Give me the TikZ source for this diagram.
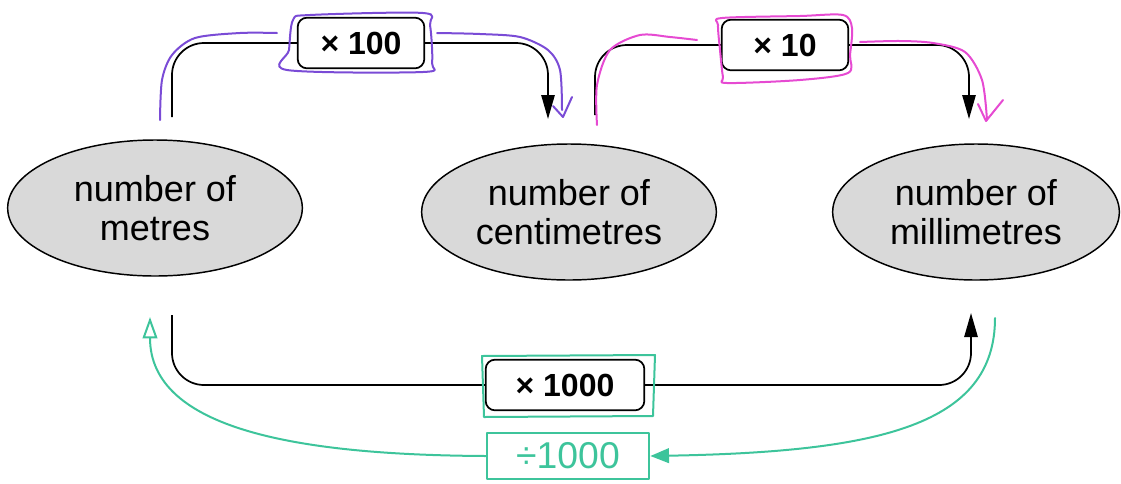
\documentclass[tikz,border=0pt]{standalone}
\usepackage{fontspec}
\setmainfont{Liberation Sans}
\usetikzlibrary{arrows.meta,shapes.geometric}
\definecolor{penpurple}{HTML}{7A4BD6}
\definecolor{penpink}{HTML}{E64AD2}
\definecolor{pengreen}{HTML}{3DC49B}
\begin{document}
\begin{tikzpicture}[x=0.75pt,y=-0.75pt,
  qty/.style={ellipse,draw,line width=1.1pt,fill=black!15,inner sep=0pt,minimum width=221pt,minimum height=102pt,align=center,font=\fontsize{27}{29}\selectfont},
  op/.style={draw,line width=1.3pt,rounded corners=7pt,fill=white,minimum height=38pt,font=\bfseries\fontsize{24}{26}\selectfont},
  link/.style={line width=1.3pt,rounded corners=24pt},
  tip/.style={-{Triangle[length=18pt,width=10pt]}},
  pen/.style={line width=1.5pt,line cap=round,line join=round}]
\useasboundingbox (0,0) rectangle (1121,483);
% quantities
\node[qty] (m) at (155,208) {number of\\metres};
\node[qty] (cm) at (569,212) {number of\\centimetres};
\node[qty,minimum width=215pt] (mm) at (976,212) {number of\\millimetres};
% multipliers
\node[op,minimum width=95pt] (x100) at (361,43) {× 100};
\node[op,minimum width=95pt] (x10) at (785,45) {× 10};
\node[op,minimum width=119pt] (x1000) at (565,385) {× 1000};
% connector ends
\coordinate (m-top) at (172,117);
\coordinate (m-bot) at (172,315);
\coordinate (cm-top) at (548,119);
\coordinate (cm-out) at (595,115);
\coordinate (mm-top) at (969,119);
\coordinate (mm-bot) at (971,313);
\draw[link] (m-top) |- (x100);
\draw[link,tip] (x100) -| (cm-top);
\draw[link] (cm-out) |- (x10);
\draw[link,tip] (x10) -| (mm-top);
\draw[link] (m-bot) |- (x1000);
\draw[link,tip] (x1000) -| (mm-bot);
% pen marks
\draw[pen,penpurple] plot[smooth] coordinates {(160,120) (162,80) (172,55) (195,38) (240,33) (277,33)};
\draw[pen,penpurple] plot[smooth cycle] coordinates {(293,20) (310,15) (423,13) (430,25) (432,63) (423,72) (287,70) (289,50)};
\draw[pen,penpurple] plot[smooth] coordinates {(437,33) (480,34) (520,37) (548,50) (560,70) (562,110)};
\draw[pen,penpurple] (553,106) -- (563,117) -- (572,97);
\draw[pen,penpink] plot[smooth] coordinates {(597,125) (597,85) (610,50) (640,35) (670,37) (697,40)};
\draw[pen,penpink] plot[smooth cycle] coordinates {(718,25) (722,18) (800,16) (843,15) (852,28) (850,55) (848,73) (800,80) (727,83) (723,77) (720,50)};
\draw[pen,penpink] plot[smooth] coordinates {(860,42) (900,41) (933,43) (965,52) (982,80) (987,120)};
\draw[pen,penpink] (978,104) -- (986,121) -- (1003,100);
\draw[pen,pengreen] (482,356) -- (655,355) -- (653,416) -- (484,417) -- cycle;
\node[pen,draw=pengreen,text=pengreen,minimum width=122pt,minimum height=35pt,font=\fontsize{28}{30}\selectfont] (div) at (568,456) {÷1000};
\coordinate (m-back) at (150,317);
\coordinate (mm-back) at (995,318);
\draw[pen,pengreen,-{Triangle[open,length=16pt,width=11pt]}] (div.west) .. controls (300,455) and (150,430) .. (m-back);
\draw[pen,pengreen,-{Triangle[length=14pt,width=11pt]}] (mm-back) .. controls (995,425) and (880,452) .. (div.east);
\end{tikzpicture}
\end{document}
